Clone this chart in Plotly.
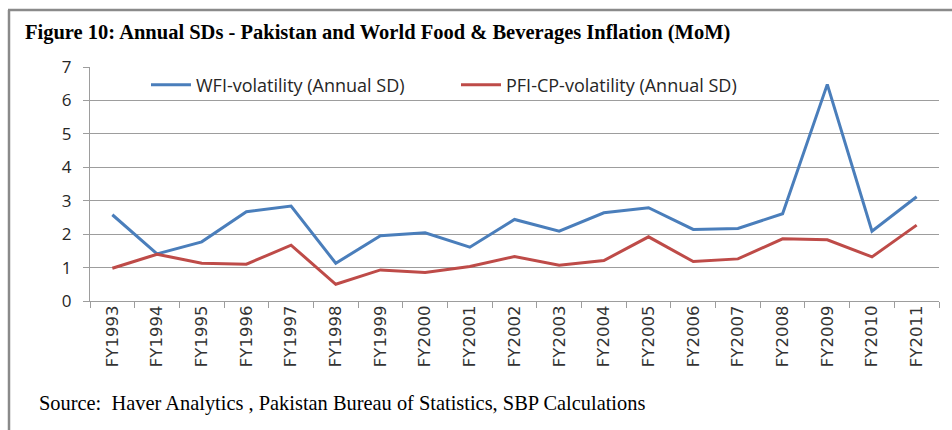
import plotly.graph_objects as go

years = ["FY1993", "FY1994", "FY1995", "FY1996", "FY1997", "FY1998", "FY1999", "FY2000",
         "FY2001", "FY2002", "FY2003", "FY2004", "FY2005", "FY2006", "FY2007", "FY2008",
         "FY2009", "FY2010", "FY2011"]
wfi = [2.58, 1.41, 1.77, 2.67, 2.84, 1.13, 1.95, 2.04, 1.61, 2.44, 2.09, 2.64, 2.79,
       2.14, 2.17, 2.61, 6.48, 2.09, 3.12]
pfi = [0.98, 1.40, 1.13, 1.10, 1.67, 0.50, 0.93, 0.85, 1.03, 1.33, 1.07, 1.21, 1.92,
       1.18, 1.26, 1.86, 1.83, 1.32, 2.27]
y_ticks = [0, 1, 2, 3, 4, 5, 6, 7]

W, H = 952, 430
L, R, T, B = 90, 13, 67, 129
PW, PH = W - L - R, H - T - B

def px(x):
    return (x - L) / PW

def py(y):
    return (H - B - y) / PH

fig = go.Figure()
fig.add_trace(go.Scatter(x=years, y=wfi, mode="lines", name="WFI-volatility (Annual SD)",
                         line=dict(color="#4A7EBB", width=3)))
fig.add_trace(go.Scatter(x=years, y=pfi, mode="lines", name="PFI-CP-volatility (Annual SD)",
                         line=dict(color="#BE4B48", width=3)))

grid = "#9d9d9d"
fig.update_layout(
    width=W, height=H,
    margin=dict(l=L, r=R, t=T, b=B),
    paper_bgcolor="white", plot_bgcolor="white",
    legend=dict(orientation="h", x=px(146), y=py(85), xanchor="left", yanchor="middle",
                bgcolor="rgba(0,0,0,0)", font=dict(family="Open Sans", size=18, color="#262626"),
                entrywidth=255, entrywidthmode="pixels", itemwidth=40),
    showlegend=True,
    xaxis=dict(type="category", range=[-0.5, 18.5], tickson="boundaries",
               ticks="outside", ticklen=6, tickcolor=grid, showline=True, linecolor=grid,
               linewidth=1, showgrid=False, tickangle=-90, ticklabelstandoff=-3,
               tickfont=dict(family="DejaVu Sans", size=16.5, color="#333333")),
    yaxis=dict(range=[0, 7], tickvals=y_ticks, ticks="outside", ticklen=6, tickcolor=grid,
               showline=True, linecolor=grid, linewidth=1, showgrid=True, gridcolor=grid,
               gridwidth=1, zeroline=False, ticklabelstandoff=8,
               tickfont=dict(family="Open Sans", size=17, color="#262626")),
    shapes=[
        dict(type="line", xref="paper", yref="paper", x0=px(8), x1=px(W), y0=py(10), y1=py(10),
             line=dict(color="#8a8a8a", width=2.5)),
        dict(type="line", xref="paper", yref="paper", x0=px(9), x1=px(9), y0=py(10), y1=py(H),
             line=dict(color="#8a8a8a", width=2.5)),
    ],
    annotations=[
        dict(text="<b>Figure 10: Annual SDs - Pakistan and World Food &amp; Beverages Inflation (MoM)</b>",
             xref="paper", yref="paper", x=px(23), y=py(32), xanchor="left", yanchor="middle",
             showarrow=False, font=dict(family="Liberation Serif", size=20.5, color="black")),
        dict(text="Source:  Haver Analytics , Pakistan Bureau of Statistics, SBP Calculations",
             xref="paper", yref="paper", x=px(37), y=py(403), xanchor="left", yanchor="middle",
             showarrow=False, font=dict(family="Liberation Serif", size=20.4, color="black")),
    ],
)

fig.write_html("out.html", config={"displayModeBar": False},
               post_script="document.body.style.margin='0';")
